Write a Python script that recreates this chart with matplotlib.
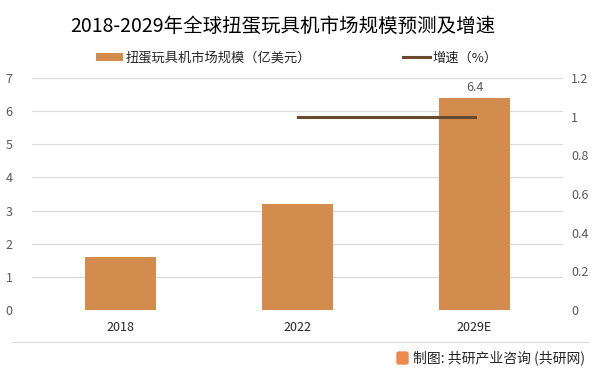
import matplotlib.pyplot as plt
from matplotlib.lines import Line2D
from matplotlib.patches import Patch, FancyBboxPatch

plt.rcParams['font.family'] = ['Noto Sans CJK SC', 'DejaVu Sans']

years = ['2018', '2022', '2029E']
market_size = [1.6, 3.2, 6.4]
growth_years = ['2022', '2029E']
growth = [1.0, 1.0]

bar_color = '#D38C4E'
line_color = '#6A4A2E'
text_color = '#595959'
grid_color = '#D9D9D9'

fig = plt.figure(figsize=(5.99, 3.74), dpi=100)

ax = fig.add_axes([32 / 599, 1 - 310 / 374, 531 / 599, 232 / 374])
x = range(len(years))
ax.bar(x, market_size, width=0.4, color=bar_color, zorder=2)
ax.set_xlim(-0.5, 2.5)
ax.set_ylim(0, 7)
ax.set_yticks(range(0, 8))
ax.set_xticks(list(x))
ax.set_xticklabels(years, fontsize=9, color='#262626')
ax.yaxis.grid(True, color=grid_color, linewidth=0.8, zorder=0)
ax.set_axisbelow(True)
for s in ax.spines.values():
    s.set_visible(False)
ax.tick_params(axis='both', length=0, labelsize=9)
ax.tick_params(axis='y', colors=text_color, pad=14)
ax.tick_params(axis='x', pad=8)

ax.text(2, market_size[2] + 0.12, '6.4', ha='center', va='bottom', fontsize=9, color=text_color)

ax2 = ax.twinx()
gx = [years.index(g) for g in growth_years]
ax2.plot(gx, growth, color=line_color, linewidth=2.2, zorder=3)
ax2.set_ylim(0, 1.2)
ax2.set_yticks([0, 0.2, 0.4, 0.6, 0.8, 1, 1.2])
ax2.set_yticklabels(['0', '0.2', '0.4', '0.6', '0.8', '1', '1.2'])
for s in ax2.spines.values():
    s.set_visible(False)
ax2.tick_params(axis='y', length=0, labelsize=9, colors=text_color, pad=6)

fig.text(283 / 599, 1 - 26 / 374, '2018-2029年全球扭蛋玩具机市场规模预测及增速',
         fontsize=14, ha='center', va='center', color='#000000')

handles = [Patch(facecolor=bar_color), Line2D([0], [0], color=line_color, linewidth=2.2)]
fig.legend(handles, ['扭蛋玩具机市场规模（亿美元）', '增速（%）'], ncol=2,
           loc='center', bbox_to_anchor=(297 / 599, 1 - 58 / 374), frameon=False,
           fontsize=9.5, columnspacing=7, handlelength=2.0, handleheight=0.6, handletextpad=0.2,
           labelcolor='#262626')

# footer
fig.add_artist(Line2D([12 / 599, 588 / 599], [1 - 342 / 374, 1 - 342 / 374], color=grid_color, linewidth=0.8))
fig.text(585 / 599, 1 - 358 / 374, '制图: 共研产业咨询 (共研网)', fontsize=10, ha='right', va='center',
         color='#262626')
fig.add_artist(FancyBboxPatch((397 / 599, 1 - 364 / 374), 11 / 599, 12 / 374,
                              boxstyle='round,pad=0,rounding_size=0.004', color='#F08A4B',
                              transform=fig.transFigure))

fig.savefig('out.png', dpi=100)
